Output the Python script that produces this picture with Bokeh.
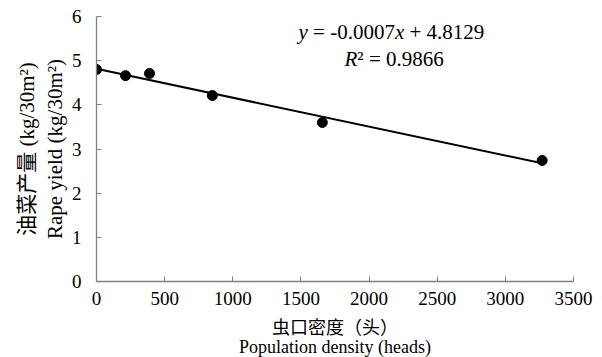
from bokeh.plotting import figure
from bokeh.models import Label, Range1d, FixedTicker
from bokeh.embed import file_html
from bokeh.resources import INLINE
import numpy as np

# data
density = [0, 213, 389, 850, 1657, 3270]
rape_yield = [4.80, 4.66, 4.71, 4.21, 3.60, 2.74]
x_ticks = [0, 500, 1000, 1500, 2000, 2500, 3000, 3500]
y_ticks = [0, 1, 2, 3, 4, 5, 6]
eq_parts = [("y", "italic"), (" = -0.0007", "normal"), ("x", "italic"), (" + 4.8129", "normal")]
r2_parts = [("R", "italic"), ("\u00b2 = 0.9866", "normal")]

SERIF = "Liberation Serif"
MIXED = "Liberation Serif, Noto Sans CJK SC"

p = figure(frame_width=477, frame_height=265,
           min_border_left=96, min_border_right=29, min_border_top=16, min_border_bottom=76,
           x_range=Range1d(0, 3500), y_range=Range1d(0, 6),
           output_backend="svg", toolbar_location=None)
p.outline_line_color = None
p.xgrid.visible = False
p.ygrid.visible = False

p.xaxis.ticker = FixedTicker(ticks=x_ticks)
p.yaxis.ticker = FixedTicker(ticks=y_ticks)
p.xaxis.axis_line_color = "#808080"
p.yaxis.axis_line_color = "#808080"
p.xaxis.axis_line_width = 1.3
p.yaxis.axis_line_width = 1.3
p.xaxis.major_tick_line_color = "#808080"
p.yaxis.major_tick_line_color = "#808080"
p.xaxis.major_tick_in = 5
p.yaxis.major_tick_in = 5
p.xaxis.major_tick_out = 0
p.yaxis.major_tick_out = 0
p.xaxis.minor_tick_line_color = None
p.yaxis.minor_tick_line_color = None
p.xaxis.major_label_text_font = SERIF
p.yaxis.major_label_text_font = SERIF
p.xaxis.major_label_text_font_size = "19px"
p.yaxis.major_label_text_font_size = "19px"
p.xaxis.major_label_text_color = "black"
p.yaxis.major_label_text_color = "black"
p.xaxis.major_label_standoff = 10
p.yaxis.major_label_standoff = 15

p.xaxis.axis_label = "虫口密度（头）\nPopulation density (heads)"
p.yaxis.axis_label = "油菜产量 (kg/30m\u00b2)\nRape yield (kg/30m\u00b2)"
p.xaxis.axis_label_text_font = MIXED
p.yaxis.axis_label_text_font = MIXED
p.xaxis.axis_label_text_font_style = "normal"
p.yaxis.axis_label_text_font_style = "normal"
p.xaxis.axis_label_text_color = "black"
p.yaxis.axis_label_text_color = "black"
p.xaxis.axis_label_text_font_size = "18px"
p.yaxis.axis_label_text_font_size = "21px"
p.xaxis.axis_label_standoff = 10
p.yaxis.axis_label_standoff = 2
p.xaxis.axis_label_text_line_height = 0.95
p.yaxis.axis_label_text_line_height = 1.15

# linear trend line fitted to the data
k, b = np.polyfit(density, rape_yield, 1)
xs = np.array([min(density), max(density)])
p.line(xs, k * xs + b, line_color="black", line_width=2)
p.scatter(density, rape_yield, size=10, fill_color="black", line_color="black")

# equation text, pieced together so that variables can be italic
EM = {" ": 0.25, "=": 0.564, "+": 0.564, "-": 0.333, ".": 0.25, "\u00b2": 0.3}
ITAL = {"y": 0.444, "x": 0.444, "R": 0.611}

def pieces(parts, y, start_offset, size=21):
    off = start_offset
    for txt, style in parts:
        lead = len(txt) - len(txt.lstrip(" "))
        off += lead * EM[" "] * size
        body = txt.lstrip(" ")
        p.add_layout(Label(x=0, y=y, x_offset=off, text=body, text_font=SERIF,
                           text_font_style=style, text_font_size=f"{size}px",
                           text_color="black", text_baseline="alphabetic",
                           text_align="left"))
        if style == "italic":
            off += sum(ITAL.get(ch, 0.5) for ch in body) * size
        else:
            off += sum(EM.get(ch, 0.5) for ch in body) * size

pieces(eq_parts, 5.64, 202)
pieces(r2_parts, 5.04, 248)

open("out.html", "w").write(file_html(p, INLINE))
